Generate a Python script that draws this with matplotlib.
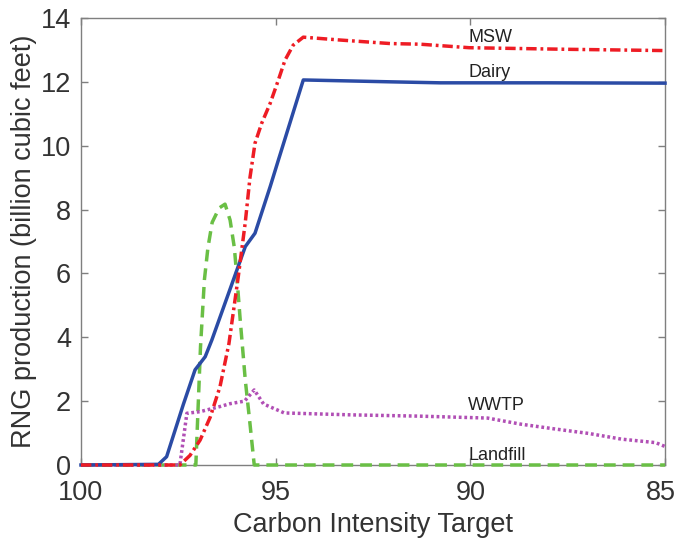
import matplotlib
matplotlib.use("Agg")
import matplotlib.pyplot as plt
import matplotlib.transforms as mtransforms

plt.rcParams['font.family'] = ['Liberation Sans', 'DejaVu Sans']
plt.rcParams['lines.scale_dashes'] = False

# ---- data ----
dairy_x = [100, 98.01, 97.80, 97.37, 97.07, 96.81, 96.64, 95.78, 95.53, 95.14, 94.93, 94.29, 92.0, 90.77, 88.0, 85.0]
dairy_y = [0, 0.02, 0.26, 1.9, 2.98, 3.39, 3.91, 6.84, 7.26, 8.72, 9.55, 12.06, 12.0, 11.97, 11.97, 11.96]

msw_x = [100, 97.46, 97.2, 96.94, 96.68, 96.43, 96.2, 95.96, 95.78, 95.66, 95.53, 95.36, 95.14, 94.93, 94.76, 94.55, 94.29, 93.34, 92.06, 91.29, 90.03, 87.5, 85.0]
msw_y = [0, 0, 0.3, 0.78, 1.5, 2.45, 3.8, 5.9, 7.6, 9.0, 10.08, 10.7, 11.33, 12.06, 12.68, 13.15, 13.4, 13.31, 13.2, 13.18, 13.07, 13.02, 12.98]

wwtp_x = [100, 97.46, 97.28, 96.94, 96.43, 96.17, 95.8, 95.55, 95.31, 94.78, 93.06, 91.31, 89.56, 88.71, 87.84, 86.97, 86.12, 85.24, 85.0]
wwtp_y = [0, 0, 1.62, 1.67, 1.83, 1.92, 2.0, 2.35, 1.91, 1.63, 1.57, 1.53, 1.47, 1.28, 1.13, 0.99, 0.81, 0.70, 0.58]

landfill_x = [100, 97.05, 96.93, 96.83, 96.74, 96.63, 96.45, 96.3, 96.17, 96.06, 95.99, 95.91, 95.78, 95.66, 95.55, 85.0]
landfill_y = [0, 0, 3.7, 5.8, 6.8, 7.6, 8.05, 8.17, 7.67, 6.8, 5.8, 4.54, 2.66, 1.3, 0, 0]

x_ticks = [100, 95, 90, 85]
y_ticks = [0, 2, 4, 6, 8, 10, 12, 14]

labels = ['MSW', 'Dairy', 'WWTP', 'Landfill']
label_x = 90.05
label_y = [13.4, 12.3, 1.85, 0.3]

# ---- figure ----
fig = plt.figure(figsize=(6.77, 5.41), dpi=100)
ax = fig.add_axes([0.1196, 0.1405, 0.8627, 0.8262])

lw = 2.5
ax.plot(landfill_x, landfill_y, color='#6ABF45', lw=lw, dashes=(8.5, 5.0), clip_on=False, zorder=3)
ax.plot(wwtp_x, wwtp_y, color='#B14FB5', lw=lw, dashes=(2.0, 2.0), dash_capstyle='butt', clip_on=False, zorder=4)
ax.plot(dairy_x, dairy_y, color='#2B4BA5', lw=lw, clip_on=False, zorder=5)
ax.plot(msw_x, msw_y, color='#EE1C24', lw=lw, dashes=(7.5, 2.8, 2.0, 2.8), clip_on=False, zorder=6)

for lab, ly in zip(labels, label_y):
    ax.text(label_x, ly, lab, fontsize=13, color='#222222', ha='left', va='center', zorder=7)

ax.set_xlim(100, 85)
ax.set_ylim(0, 14)
ax.set_xticks(x_ticks)
ax.set_yticks(y_ticks)
ax.set_xticklabels([str(t) for t in x_ticks])
ax.set_yticklabels([str(t) for t in y_ticks])

ax.tick_params(direction='in', length=5, width=1, color='#7f7f7f', labelcolor='#333333',
               labelsize=19.5, top=True, right=True)
ax.tick_params(axis='x', pad=11)
ax.tick_params(axis='y', pad=7)
for s in ax.spines.values():
    s.set_color('#7f7f7f')
    s.set_linewidth(1.0)

# nudge the last x tick label so it stays inside the figure
last = ax.get_xticklabels()[-1]
last.set_transform(last.get_transform() + mtransforms.ScaledTranslation(-4 / 100, 0, fig.dpi_scale_trans))

ax.set_xlabel('Carbon Intensity Target', fontsize=19.5, color='#333333', labelpad=4)
ax.set_ylabel('RNG production (billion cubic feet)', fontsize=19.5, color='#333333', labelpad=3)

fig.savefig('out.png', dpi=100)
